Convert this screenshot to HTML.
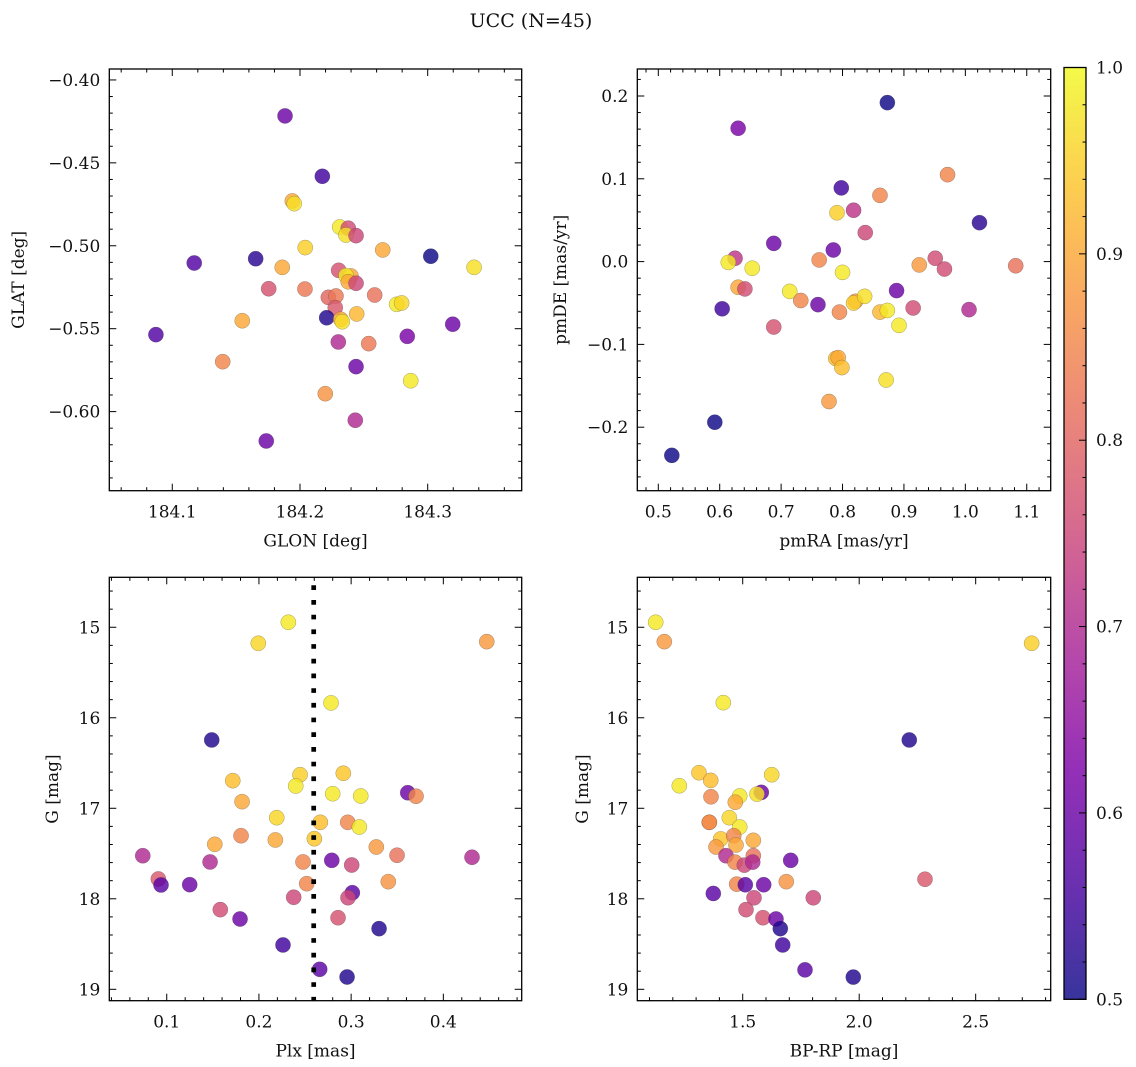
<!DOCTYPE html>
<html><head><meta charset="utf-8">
<style>
html,body{margin:0;padding:0;background:#fff;}
svg{display:block;font-family:"DejaVu Serif","Liberation Serif",serif;}
</style></head>
<body>
<svg id="fig" width="1136" height="1067" viewBox="0 0 1136 1067" xmlns="http://www.w3.org/2000/svg">
<text x="531" y="27" font-size="19" text-anchor="middle" fill="#111">UCC (N=45)</text>
<g id="plots"></g>
</svg>
<script>
// ---- Panel 1: GLON vs GLAT ----
const glon = [184.1883,184.2175,184.1940,184.1955,184.1172,184.1653,184.2041,184.1861,184.1755,184.2039,184.2311,184.2378,184.2360,184.2439,184.2648,184.3024,184.3363,184.2303,184.2399,184.2360,184.2378,184.2439,184.2585,184.2222,184.2282,184.2276,184.2209,184.2319,184.2331,184.2444,184.2757,184.2796,184.3196,184.0872,184.1548,184.2300,184.2538,184.2840,184.2439,184.1395,184.2867,184.2198,184.2433,184.1736];
const glat = [-0.4217,-0.4581,-0.4730,-0.4746,-0.5104,-0.5078,-0.5011,-0.5130,-0.5259,-0.5261,-0.4887,-0.4894,-0.4935,-0.4939,-0.5025,-0.5063,-0.5130,-0.5148,-0.5182,-0.5180,-0.5217,-0.5226,-0.5297,-0.5311,-0.5303,-0.5373,-0.5434,-0.5443,-0.5458,-0.5411,-0.5353,-0.5345,-0.5473,-0.5536,-0.5452,-0.5580,-0.5590,-0.5546,-0.5729,-0.5699,-0.5814,-0.5892,-0.6052,-0.6177];
const prob1 = [0.6,0.55,0.9,0.97,0.57,0.53,0.95,0.9,0.77,0.83,0.98,0.76,0.97,0.75,0.9,0.5,0.97,0.77,0.9,0.98,0.9,0.75,0.82,0.8,0.83,0.78,0.52,0.9,0.97,0.92,0.98,0.96,0.6,0.57,0.9,0.7,0.83,0.62,0.6,0.85,0.98,0.87,0.7,0.6];
const ticks1x = [184.1,184.2,184.3];
const ticks1y = [-0.40,-0.45,-0.50,-0.55,-0.60];
// ---- Panel 2: pmRA vs pmDE ----
const pmra = [0.873,0.630,0.971,0.798,0.861,0.791,0.818,0.837,1.023,0.688,0.785,0.625,0.614,0.653,0.762,0.800,0.925,0.951,0.966,1.082,0.630,0.641,0.714,0.732,0.760,0.795,0.821,0.818,0.836,0.888,0.861,0.873,0.915,1.006,0.892,0.604,0.688,0.789,0.793,0.799,0.871,0.778,0.592,0.522];
const pmde = [0.192,0.161,0.105,0.089,0.080,0.059,0.062,0.035,0.047,0.022,0.014,0.004,-0.001,-0.008,0.002,-0.013,-0.004,0.004,-0.009,-0.005,-0.031,-0.033,-0.036,-0.047,-0.052,-0.061,-0.048,-0.050,-0.042,-0.035,-0.061,-0.059,-0.056,-0.058,-0.077,-0.057,-0.079,-0.117,-0.116,-0.128,-0.143,-0.169,-0.194,-0.234];
const prob2 = [0.5,0.62,0.85,0.55,0.85,0.95,0.72,0.75,0.53,0.6,0.6,0.72,0.98,0.98,0.85,0.98,0.88,0.76,0.76,0.82,0.9,0.76,0.98,0.85,0.6,0.85,0.88,0.95,0.97,0.6,0.92,0.98,0.76,0.7,0.98,0.55,0.77,0.93,0.9,0.93,0.97,0.88,0.5,0.5];
const ticks2x = [0.5,0.6,0.7,0.8,0.9,1.0,1.1];
const ticks2y = [0.2,0.1,0.0,-0.1,-0.2];
// ---- Panel 3: Plx vs G ----
const plx = [0.2319,0.1993,0.4471,0.2782,0.1488,0.2446,0.2915,0.1716,0.2399,0.2800,0.3104,0.3614,0.3704,0.1817,0.2193,0.2666,0.2963,0.3089,0.1806,0.2178,0.2601,0.1521,0.3273,0.0740,0.3498,0.4311,0.1470,0.2478,0.2790,0.3006,0.0909,0.0938,0.1249,0.2518,0.3403,0.2377,0.3013,0.2966,0.1581,0.1795,0.2858,0.3303,0.2261,0.2659,0.2956];
const gmag3 = [14.945,15.177,15.159,15.836,16.245,16.629,16.613,16.695,16.754,16.839,16.864,16.828,16.867,16.927,17.104,17.155,17.155,17.207,17.303,17.350,17.336,17.398,17.428,17.524,17.519,17.541,17.593,17.593,17.575,17.627,17.781,17.847,17.844,17.833,17.811,17.983,17.933,17.988,18.120,18.223,18.209,18.330,18.510,18.779,18.864];
const prob3 = [0.98,0.96,0.88,0.98,0.52,0.95,0.94,0.93,0.98,0.98,0.98,0.6,0.85,0.9,0.96,0.93,0.85,0.98,0.85,0.9,0.94,0.9,0.88,0.7,0.82,0.7,0.7,0.85,0.6,0.75,0.78,0.58,0.6,0.85,0.87,0.75,0.58,0.75,0.76,0.6,0.77,0.52,0.55,0.58,0.52];
const plxLine = [0.2594];
const ticks3x = [0.1,0.2,0.3,0.4];
const ticksGy = [15,16,17,18,19];
// ---- Panel 4: BP-RP vs G ----
const bprp = [1.1266,1.1635,2.7403,1.4167,2.2150,1.3124,1.3627,1.2279,1.6245,1.5798,1.5614,1.3639,1.4871,1.4682,1.4425,1.3567,1.3567,1.4871,1.4056,1.4614,1.5455,1.3854,1.4712,1.4283,1.5455,1.7060,1.4670,1.5069,1.5429,2.2824,1.4742,1.5112,1.5901,1.6871,1.3738,1.5485,1.8030,1.5142,1.5871,1.6429,1.6614,1.6717,1.7674,1.9747];
const gmag4 = [14.945,15.159,15.177,15.833,16.245,16.607,16.692,16.751,16.629,16.824,16.843,16.873,16.864,16.933,17.104,17.155,17.155,17.207,17.339,17.303,17.354,17.428,17.406,17.524,17.524,17.575,17.595,17.628,17.595,17.784,17.838,17.845,17.845,17.811,17.941,17.989,17.989,18.120,18.209,18.223,18.330,18.510,18.785,18.865];
const prob4 = [0.98,0.88,0.95,0.98,0.52,0.94,0.93,0.98,0.96,0.6,0.97,0.85,0.98,0.9,0.96,0.9,0.85,0.98,0.94,0.85,0.9,0.88,0.9,0.7,0.82,0.6,0.85,0.75,0.7,0.78,0.85,0.58,0.6,0.87,0.58,0.75,0.75,0.76,0.77,0.6,0.52,0.55,0.58,0.52];
const ticks4x = [1.5,2.0,2.5];
const cbTicks = [0.5,0.6,0.7,0.8,0.9,1.0];

const NS = 'http://www.w3.org/2000/svg';
const root = document.getElementById('plots');
const FS = 17;
function mk(tag, attrs, parent){const e=document.createElementNS(NS,tag);for(const k in attrs)e.setAttribute(k,attrs[k]);(parent||root).appendChild(e);return e;}
const stops=[[0,[13,8,135]],[0.125,[76,2,161]],[0.25,[126,3,168]],[0.375,[168,34,150]],[0.5,[204,71,120]],[0.625,[230,108,92]],[0.75,[248,149,64]],[0.875,[253,195,40]],[1,[240,249,33]]];
function plasma(t){t=Math.max(0,Math.min(1,t));for(let i=1;i<stops.length;i++){if(t<=stops[i][0]){const a=stops[i-1],b=stops[i];const f=(t-a[0])/(b[0]-a[0]);const c=a[1].map((v,j)=>Math.round(v+(b[1][j]-v)*f));return 'rgb('+c.join(',')+')';}}return 'rgb(240,249,33)';}
function pcol(p){return plasma((p-0.5)/0.5);}
function fmt(v,d){const s=Math.abs(v).toFixed(d);return (v<-1e-9?'\u2212':'')+s;}

function panel(cfg){
  const {name,L,R,T,B,x0,x1,y0,y1,invY,xt,yt,xminor,yminor,xd,yd,xs,ys,ps,xlabel,ylabel,ylabX}=cfg;
  const X=v=>L+(v-x0)/(x1-x0)*(R-L);
  const Y=v=>invY? T+(v-y0)/(y1-y0)*(B-T) : B-(v-y0)/(y1-y0)*(B-T);
  const g=mk('g',{});
  
  
  const tg=mk('g',{stroke:'#000','stroke-width':1},g);
  for(let v=Math.ceil((x0)/xminor-1e-6)*xminor; v<=x1+1e-9; v+=xminor){
    const isMaj=xt.some(t=>Math.abs(t-v)<xminor*0.01);
    const len=isMaj?7:3.5, px=X(v);
    mk('line',{x1:px,x2:px,y1:B,y2:B-len},tg);mk('line',{x1:px,x2:px,y1:T,y2:T+len},tg);
  }
  for(let v=Math.ceil(Math.min(y0,y1)/yminor-1e-6)*yminor; v<=Math.max(y0,y1)+1e-9; v+=yminor){
    const isMaj=yt.some(t=>Math.abs(t-v)<yminor*0.01);
    const len=isMaj?7:3.5, py=Y(v);
    mk('line',{x1:L,x2:L+len,y1:py,y2:py},tg);mk('line',{x1:R,x2:R-len,y1:py,y2:py},tg);
  }
  for(let i=0;i<xs.length;i++){
    const c=mk('circle',{cx:X(xs[i]),cy:Y(ys[i]),r:7.6,fill:pcol(ps[i]),'fill-opacity':0.82,stroke:'rgba(60,60,60,0.45)','stroke-width':0.5},g);
    
    
  }
  if(cfg.vline){for(const v of cfg.vline){
    const l=mk('line',{x1:X(v),x2:X(v),y1:T+8,y2:B,stroke:'#000','stroke-width':4.7,'stroke-dasharray':'4.7 10'},g);
    
    
  }}
  const fr=mk('rect',{x:L,y:T,width:R-L,height:B-T,fill:'none',stroke:'#000','stroke-width':1.3},g);
  
  
  for(const v of xt){const t=mk('text',{x:X(v),y:B+27,'font-size':FS,'text-anchor':'middle',fill:'#111'},g);t.textContent=fmt(v,xd);
    
    }
  for(const v of yt){const t=mk('text',{x:L-9,y:Y(v)+6,'font-size':FS,'text-anchor':'end',fill:'#111'},g);t.textContent=fmt(v,yd);
    
    }
  const xl=mk('text',{x:(L+R)/2,y:B+56,'font-size':FS,'text-anchor':'middle',fill:'#111'},g);xl.textContent=xlabel;
  
  
  const cy=(T+B)/2;
  const yl=mk('text',{x:ylabX,y:cy,'font-size':FS,'text-anchor':'middle',fill:'#111',transform:`rotate(-90 ${ylabX} ${cy})`},g);yl.textContent=ylabel;
  
  
}

panel({name:'glon-glat-panel',L:109.3,R:521.7,T:69,B:490.7,x0:184.0507,x1:184.3736,y0:-0.6477,y1:-0.3934,invY:false,xt:ticks1x,yt:ticks1y,xminor:0.02,yminor:0.01,xd:1,yd:2,xs:glon,ys:glat,ps:prob1,xlabel:'GLON [deg]',ylabel:'GLAT [deg]',ylabX:24});
panel({name:'pm-panel',L:637.3,R:1050.7,T:69,B:490.7,x0:0.4658,x1:1.139,y0:-0.2767,y1:0.2326,invY:false,xt:ticks2x,yt:ticks2y,xminor:0.02,yminor:0.02,xd:1,yd:1,xs:pmra,ys:pmde,ps:prob2,xlabel:'pmRA [mas/yr]',ylabel:'pmDE [mas/yr]',ylabX:566});
panel({name:'plx-g-panel',L:109.3,R:521.7,T:577.3,B:1000.7,x0:0.0377,x1:0.485,y0:14.448,y1:19.126,invY:true,xt:ticks3x,yt:ticksGy,xminor:0.02,yminor:0.2,xd:1,yd:0,xs:plx,ys:gmag3,ps:prob3,xlabel:'Plx [mas]',ylabel:'G [mag]',ylabX:58,vline:plxLine});
panel({name:'cmd-panel',L:637.3,R:1050.7,T:577.3,B:1000.7,x0:1.0476,x1:2.822,y0:14.448,y1:19.126,invY:true,xt:ticks4x,yt:ticksGy,xminor:0.1,yminor:0.2,xd:1,yd:0,xs:bprp,ys:gmag4,ps:prob4,xlabel:'BP-RP [mag]',ylabel:'G [mag]',ylabX:588});

(function(){
  const L=1064,R=1086,T=67.5,B=999.3;
  const defs=mk('defs',{});
  const lg=mk('linearGradient',{id:'cbg',x1:0,y1:1,x2:0,y2:0},defs);
  for(let i=0;i<=20;i++){mk('stop',{offset:i/20,'stop-color':plasma(i/20),'stop-opacity':0.82},lg);}
  const g=mk('g',{});
  
  
  mk('rect',{x:L,y:T,width:R-L,height:B-T,fill:'url(#cbg)'},g);
  const Y=v=>B-(v-0.5)/0.5*(B-T);
  for(let k=25;k<=50;k++){const v=k/50;const maj=(k%5===0);const py=Y(v);
    mk('line',{x1:R,x2:R-(maj?7:3.5),y1:py,y2:py,stroke:'#000','stroke-width':1},g);}
  mk('rect',{x:L,y:T,width:R-L,height:B-T,fill:'none',stroke:'#000','stroke-width':1.3},g);
  for(const v of cbTicks){const t=mk('text',{x:R+10,y:Y(v)+6,'font-size':FS,fill:'#111'},g);t.textContent=v.toFixed(1);
    
    }
})();
</script>
</body></html>
